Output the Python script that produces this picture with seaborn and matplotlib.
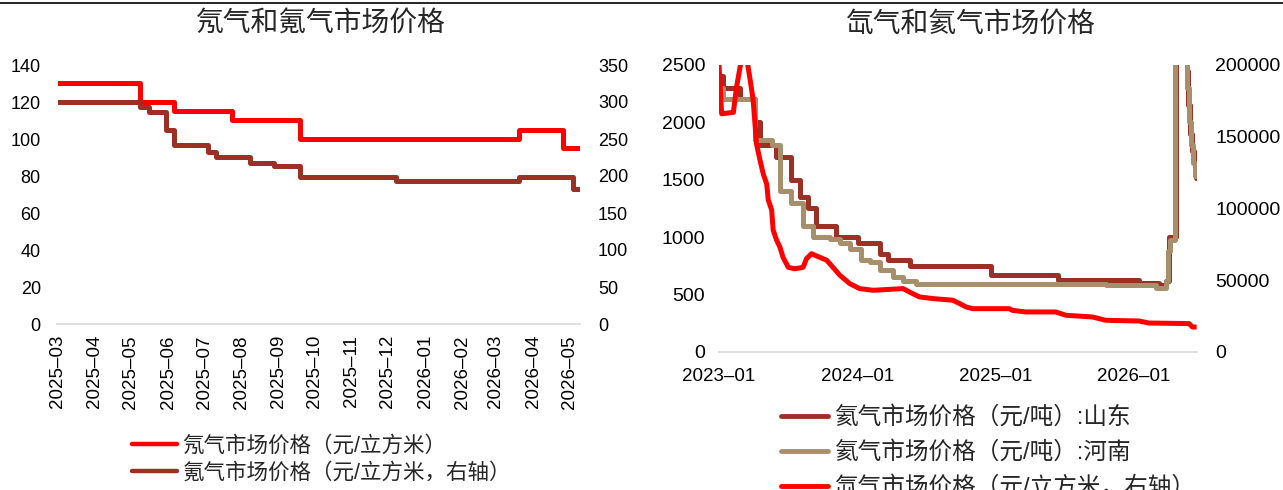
import pandas as pd
import seaborn as sns
import matplotlib.pyplot as plt
from matplotlib.lines import Line2D

# ---- 左图：氖气 / 氪气 ----
neon_dates = ['2025-03-01', '2025-05-09', '2025-06-06', '2025-07-24', '2025-09-19',
              '2026-03-20', '2026-04-26', '2026-05-10']
neon_vals = [130, 120, 115, 110, 100, 105, 95, 95]

krypton_dates = ['2025-03-01', '2025-05-09', '2025-05-16', '2025-05-30', '2025-06-06',
                 '2025-07-04', '2025-07-11', '2025-08-08', '2025-08-28', '2025-09-19',
                 '2025-12-08', '2026-03-20', '2026-05-04', '2026-05-10']
krypton_vals = [300, 293, 287, 262, 242, 233, 226, 217, 213, 198, 193, 198, 183, 183]

left_ticks = ['2025-03', '2025-04', '2025-05', '2025-06', '2025-07', '2025-08', '2025-09',
              '2025-10', '2025-11', '2025-12', '2026-01', '2026-02', '2026-03', '2026-04',
              '2026-05']

# ---- 右图：氦气（山东、河南）/ 氙气 ----
shandong_dates = ['2023-01-01', '2023-01-12', '2023-02-25', '2023-04-05', '2023-04-18',
                  '2023-06-01', '2023-07-11', '2023-08-02', '2023-08-24', '2023-09-15',
                  '2023-11-07', '2024-01-03', '2024-02-29', '2024-03-22', '2024-05-18',
                  '2024-12-19', '2025-06-13', '2026-01-14', '2026-03-08', '2026-03-25',
                  '2026-04-03', '2026-04-21', '2026-05-20', '2026-05-24', '2026-05-29',
                  '2026-06-04', '2026-06-08', '2026-06-13', '2026-06-15']
shandong_vals = [2400, 2300, 2200, 2000, 1800, 1700, 1500, 1350, 1250, 1100,
                 1000, 950, 850, 800, 750, 670, 625, 600, 580, 620,
                 1000, 3200, 2450, 2150, 1900, 1750, 1700, 1520, 1520]

henan_dates = ['2023-01-01', '2023-01-12', '2023-04-05', '2023-05-20', '2023-06-10',
               '2023-07-11', '2023-08-11', '2023-09-06', '2023-10-20', '2023-11-16',
               '2023-12-12', '2024-01-12', '2024-02-03', '2024-02-29', '2024-04-04',
               '2024-05-01', '2024-06-05', '2025-10-18', '2026-02-27', '2026-03-25',
               '2026-04-01', '2026-04-07', '2026-04-18', '2026-05-17', '2026-05-21',
               '2026-05-26', '2026-06-01', '2026-06-06', '2026-06-12', '2026-06-15']
henan_vals = [2300, 2200, 1850, 1800, 1400, 1300, 1100, 1000, 980, 950,
              900, 800, 780, 710, 650, 620, 590, 580, 555, 620,
              880, 975, 3300, 2550, 2300, 2000, 1800, 1650, 1530, 1520]

xenon_dates = ['2023-01-01', '2023-01-08', '2023-02-08', '2023-02-16', '2023-03-02',
               '2023-03-15', '2023-03-24', '2023-04-01', '2023-04-06', '2023-04-10',
               '2023-04-19', '2023-04-28', '2023-05-07', '2023-05-11', '2023-05-20',
               '2023-05-24', '2023-06-02', '2023-06-11', '2023-06-19', '2023-07-03',
               '2023-07-20', '2023-08-11', '2023-08-20', '2023-09-02', '2023-09-24',
               '2023-10-12', '2023-10-29', '2023-11-16', '2023-12-12', '2024-01-07',
               '2024-02-12', '2024-05-01', '2024-05-18', '2024-06-13', '2024-07-19',
               '2024-09-09', '2024-09-27', '2024-10-14', '2024-11-01', '2025-02-05',
               '2025-02-14', '2025-03-21', '2025-06-08', '2025-07-05', '2025-09-13',
               '2025-10-18', '2026-01-14', '2026-02-09', '2026-05-26', '2026-06-04',
               '2026-06-15']
xenon_vals = [200000, 166000, 167000, 184000, 205000, 205000, 190000, 176000, 159000, 145000,
              134000, 124000, 117000, 106000, 99000, 85000, 78000, 73000, 66000, 59000,
              58000, 59000, 65000, 68500, 66000, 64000, 59000, 53500, 47700, 44200,
              43000, 44200, 41800, 38400, 37200, 36100, 33800, 31400, 30200, 30200,
              29000, 27900, 27900, 25600, 24400, 22100, 21600, 20200, 19800, 17400,
              17400]

right_ticks = ['2023-01', '2024-01', '2025-01', '2026-01']

RED = '#ff0000'
BROWN = '#9c3024'
TAN = '#a88f6c'
GRAY = '#d9d9d9'
LW = 3.6

sns.set_theme(style='white')
plt.rcParams['font.family'] = ['Liberation Sans', 'Noto Sans CJK SC', 'DejaVu Sans']

W, H = 1283, 490
fig = plt.figure(figsize=(W / 100, H / 100), dpi=100)


def px_axes(x0, y0, x1, y1):
    return fig.add_axes([x0 / W, 1 - y1 / H, (x1 - x0) / W, (y1 - y0) / H])


def style(ax, twin, xsize, ysize, ylpad, yrpad, xpad, rot):
    for a in (ax, twin):
        for s in ('top', 'left', 'right'):
            a.spines[s].set_visible(False)
    twin.spines['bottom'].set_visible(False)
    ax.spines['bottom'].set_color(GRAY)
    ax.spines['bottom'].set_linewidth(1.2)
    ax.tick_params(axis='x', length=5, width=1.2, color=GRAY, pad=xpad,
                   labelsize=xsize, labelrotation=rot, labelcolor='black')
    ax.tick_params(axis='y', length=0, pad=ylpad, labelsize=ysize, labelcolor='black')
    twin.tick_params(axis='y', length=0, pad=yrpad, labelsize=ysize, labelcolor='black')
    ax.set_xlabel('')
    ax.set_ylabel('')
    twin.set_ylabel('')
    ax.grid(False)
    twin.grid(False)


# ---- 左图 ----
ax1 = px_axes(57.5, 65, 580, 324)
ax1b = ax1.twinx()
sns.lineplot(x=pd.to_datetime(neon_dates), y=neon_vals, ax=ax1, color=RED, lw=LW,
             drawstyle='steps-post', solid_joinstyle='round', solid_capstyle='butt')
sns.lineplot(x=pd.to_datetime(krypton_dates), y=krypton_vals, ax=ax1b, color=BROWN, lw=LW,
             drawstyle='steps-post', solid_joinstyle='round', solid_capstyle='butt')
ax1.set_ylim(0, 140)
ax1.set_yticks(range(0, 141, 20))
ax1b.set_ylim(0, 350)
ax1b.set_yticks(range(0, 351, 50))
ax1.set_xlim(pd.Timestamp('2025-03-01'), pd.Timestamp('2026-05-10'))
ax1.set_xticks(pd.to_datetime(left_ticks))
ax1.set_xticklabels([t.replace('-', '–') for t in left_ticks])
style(ax1, ax1b, 13.5, 13, 12, 13, 3, 90)

fig.text(320 / W, 1 - 25 / H, '氖气和氪气市场价格', ha='center', va='center', fontsize=20)
fig.legend([Line2D([], [], color=RED, lw=3.2), Line2D([], [], color=BROWN, lw=3.2)],
           ['氖气市场价格（元/立方米）', '氪气市场价格（元/立方米，右轴）'],
           loc='upper left', bbox_to_anchor=(132 / W, 1 - 436 / H), frameon=False,
           fontsize=15.5, handlelength=2.1, handletextpad=0.25, labelspacing=0.28,
           borderpad=0, borderaxespad=0)

# ---- 右图 ----
ax2 = px_axes(719, 65, 1197, 352)
ax2b = ax2.twinx()
sns.lineplot(x=pd.to_datetime(shandong_dates), y=shandong_vals, ax=ax2, color=BROWN, lw=LW,
             drawstyle='steps-post', solid_joinstyle='round', solid_capstyle='butt')
sns.lineplot(x=pd.to_datetime(henan_dates), y=henan_vals, ax=ax2, color=TAN, lw=LW,
             drawstyle='steps-post', solid_joinstyle='round', solid_capstyle='butt')
sns.lineplot(x=pd.to_datetime(xenon_dates), y=xenon_vals, ax=ax2b, color=RED, lw=LW,
             solid_joinstyle='round', solid_capstyle='butt')
ax2.set_ylim(0, 2500)
ax2.set_yticks(range(0, 2501, 500))
ax2b.set_ylim(0, 200000)
ax2b.set_yticks(range(0, 200001, 50000))
ax2.set_xlim(pd.Timestamp('2023-01-01'), pd.Timestamp('2026-06-16'))
ax2.set_xticks(pd.to_datetime(right_ticks))
ax2.set_xticklabels([t.replace('-', '–') for t in right_ticks])
style(ax2, ax2b, 13.5, 14, 10, 13, 6.5, 0)

fig.text(970 / W, 1 - 25 / H, '氙气和氦气市场价格', ha='center', va='center', fontsize=20)
fig.legend([Line2D([], [], color=BROWN, lw=3.5), Line2D([], [], color=TAN, lw=3.5),
            Line2D([], [], color=RED, lw=3.5)],
           ['氦气市场价格（元/吨）:山东', '氦气市场价格（元/吨）:河南',
            '氙气市场价格（元/立方米，右轴）'],
           loc='upper left', bbox_to_anchor=(781 / W, 1 - 406 / H), frameon=False,
           fontsize=17, handlelength=2.0, handletextpad=0.25, labelspacing=0.52,
           borderpad=0, borderaxespad=0)

# 顶部细线
fig.add_artist(Line2D([0, 1], [1 - 3 / H, 1 - 3 / H], color='black', lw=1.2,
                      transform=fig.transFigure))

fig.savefig('out.png', dpi=100)
